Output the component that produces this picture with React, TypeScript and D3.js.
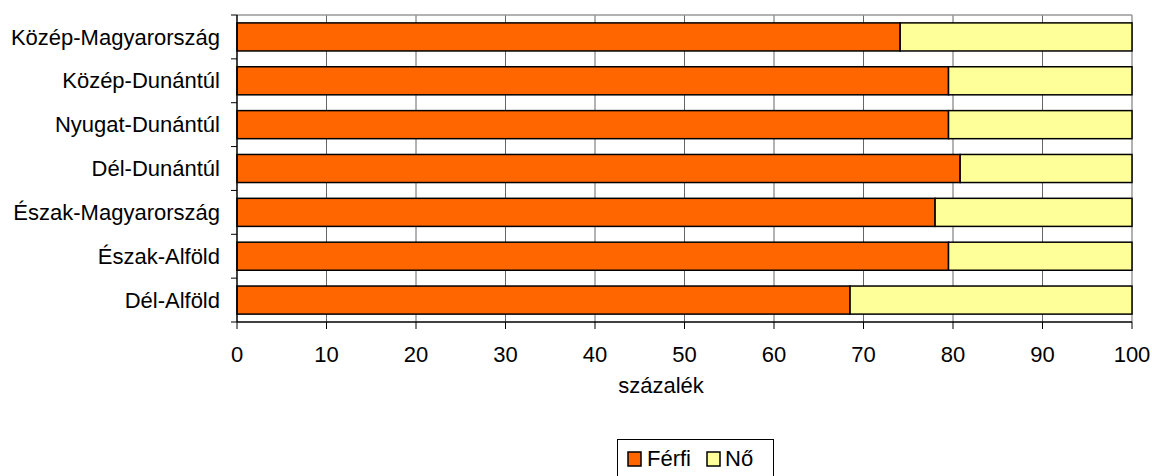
import React from "react";
import * as d3 from "d3";

const categories = [
  "Közép-Magyarország",
  "Közép-Dunántúl",
  "Nyugat-Dunántúl",
  "Dél-Dunántúl",
  "Észak-Magyarország",
  "Észak-Alföld",
  "Dél-Alföld",
];
const ferfi = [74.1, 79.5, 79.5, 80.8, 78.0, 79.5, 68.5];
const no = ferfi.map((v) => 100 - v);
const xTicks = [0, 10, 20, 30, 40, 50, 60, 70, 80, 90, 100];
const seriesNames = ["Férfi", "Nő"];
const colors = ["#FF6600", "#FFFF99"];
const xTitle = "százalék";

const W = 1152;
const H = 476;
const left = 237;
const right = 1132;
const top = 15;
const bottom = 322;
const font = "'Liberation Sans', Arial, sans-serif";
const fs = 22;

export default function App() {
  const x = d3.scaleLinear().domain([0, 100]).range([left, right]);
  const y = d3.scaleBand().domain(categories).range([top, bottom]).paddingInner(0.36).paddingOuter(0.18);
  const yb = d3.scaleBand().domain(categories).range([top, bottom]);
  const stacks = d3.stack<any>().keys(["f", "n"])(categories.map((c, i) => ({ c, f: ferfi[i], n: no[i] })));

  return (
    <svg width={W} height={H} style={{ position: "absolute", left: 0, top: 0, background: "#fff" }} fontFamily={font}>
      <rect x={0} y={0} width={W} height={H} fill="#fff" />
      {/* gridlines */}
      {xTicks.slice(1, -1).map((t) => (
        <line key={"g" + t} x1={x(t)} x2={x(t)} y1={top} y2={bottom} stroke="#666" strokeWidth={1} />
      ))}
      {/* plot border top and right */}
      <line x1={left} x2={right} y1={top} y2={top} stroke="#999" strokeWidth={1.5} />
      <line x1={right} x2={right} y1={top} y2={bottom} stroke="#999" strokeWidth={1.5} />
      {/* bars */}
      {stacks.map((s, si) =>
        s.map((d, i) => (
          <rect
            key={si + "-" + i}
            x={x(d[0])}
            y={y(categories[i])}
            width={x(d[1]) - x(d[0])}
            height={y.bandwidth()}
            fill={colors[si]}
            stroke="#000"
            strokeWidth={1.5}
          />
        ))
      )}
      {/* axes */}
      <line x1={left} x2={left} y1={top} y2={bottom} stroke="#000" strokeWidth={1.5} />
      <line x1={left} x2={right} y1={bottom} y2={bottom} stroke="#000" strokeWidth={1.5} />
      {categories.map((c) => (
        <line key={"yt" + c} x1={left - 6} x2={left} y1={yb(c)} y2={yb(c)} stroke="#000" strokeWidth={1} />
      ))}
      <line x1={left - 6} x2={left} y1={bottom} y2={bottom} stroke="#000" strokeWidth={1} />
      {xTicks.map((t) => (
        <line key={"xt" + t} x1={x(t)} x2={x(t)} y1={bottom} y2={bottom + 7} stroke="#000" strokeWidth={1} />
      ))}
      {categories.map((c) => (
        <text key={"yl" + c} x={220} y={yb(c)! + yb.bandwidth() / 2} dy="0.35em" textAnchor="end" fontSize={fs} fill="#000">
          {c}
        </text>
      ))}
      {xTicks.map((t) => (
        <text key={"xl" + t} x={x(t)} y={362} textAnchor="middle" fontSize={fs} fill="#000">
          {t}
        </text>
      ))}
      <text x={661} y={393} textAnchor="middle" fontSize={fs} fill="#000">
        {xTitle}
      </text>
      {/* legend */}
      <rect x={617.5} y={439.5} width={156} height={42} fill="#fff" stroke="#000" strokeWidth={1} />
      <rect x={628} y={452} width={13} height={14} fill={colors[0]} stroke="#000" strokeWidth={1.5} />
      <text x={647} y={466} fontSize={fs} fill="#000">{seriesNames[0]}</text>
      <rect x={707} y={452} width={13} height={14} fill={colors[1]} stroke="#000" strokeWidth={1.5} />
      <text x={725} y={466} fontSize={fs} fill="#000">{seriesNames[1]}</text>
    </svg>
  );
}
